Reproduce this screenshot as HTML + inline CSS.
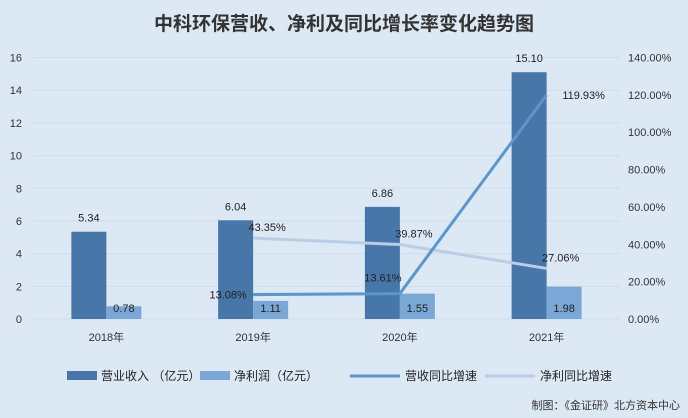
<!DOCTYPE html>
<html><head><meta charset="utf-8"><style>
body{margin:0;background:#dde8f5;}
svg{display:block;font-family:"Liberation Sans","Noto Sans CJK SC",sans-serif;}
</style></head><body>
<svg id="c" width="688" height="418">
<rect width="688" height="418" fill="#dde8f5"/>
<text x="344" y="30" text-anchor="middle" font-size="19" font-weight="bold" fill="#333">中科环保营收、净利及同比增长率变化趋势图</text>
<g id="plot"></g>
<g font-size="12" fill="#222">
<rect x="67" y="371" width="30" height="9" fill="#4677a8"/>
<text x="101" y="380">营业收入 （亿元）</text>
<rect x="200" y="371" width="30" height="9" fill="#7ba7d7"/>
<text x="234" y="380">净利润（亿元）</text>
<line x1="350" y1="376" x2="400" y2="376" stroke="#5b97cc" stroke-width="3"/>
<text x="405" y="380">营收同比增速</text>
<line x1="485" y1="376" x2="535" y2="376" stroke="#b9cde6" stroke-width="3"/>
<text x="540" y="380">净利同比增速</text>
</g>
<text x="680" y="409" text-anchor="end" font-size="11" fill="#333">制图：《金证研》北方资本中心</text>
</svg>
<script>
const categories=["2018年","2019年","2020年","2021年"];
const revenue=[5.34,6.04,6.86,15.10];
const profit=[0.78,1.11,1.55,1.98];
const revGrowth=[null,13.08,13.61,119.93];
const profitGrowth=[null,43.35,39.87,27.06];
const leftTicks=[0,2,4,6,8,10,12,14,16];
const rightTicks=[0,20,40,60,80,100,120,140];
const NS="http://www.w3.org/2000/svg";
const g=document.getElementById('plot');
const X0=33,X1=620,Y0=319,Y1=57.5;
const band=(X1-X0)/categories.length;
const cx=i=>X0+band*(i+0.5);
const yL=v=>Y0-(v/16)*(Y0-Y1);
const yR=v=>Y0-(v/140)*(Y0-Y1);
function el(t,a,txt){const e=document.createElementNS(NS,t);for(const k in a)e.setAttribute(k,a[k]);if(txt!=null)e.textContent=txt;g.appendChild(e);return e;}
leftTicks.forEach(v=>{
 const l=el('line',{x1:X0,x2:X1,y1:yL(v),y2:yL(v),stroke:'#cfdceb','stroke-width':1});
 
 
 const t=el('text',{x:22,y:yL(v)+4,'text-anchor':'end','font-size':11,fill:'#333'},v);
 
 
});
rightTicks.forEach(v=>{
 const t=el('text',{x:628,y:yR(v)+4,'font-size':11,fill:'#333'},v.toFixed(2)+'%');
 
 
});
const bw=35;
categories.forEach((c,i)=>{
 const x=cx(i);
 const b=el('rect',{x:x-bw,y:yL(revenue[i]),width:bw,height:Y0-yL(revenue[i]),fill:'#4677a8'});
 
 
 const p=el('rect',{x:x,y:yL(profit[i]),width:bw,height:Y0-yL(profit[i]),fill:'#7ba7d7'});
 
 
 const t1=el('text',{x:x-bw/2,y:yL(revenue[i])-10,'text-anchor':'middle','font-size':11,fill:'#222'},revenue[i].toFixed(2));
 
 
 const t2=el('text',{x:x+bw/2,y:Y0-7,'text-anchor':'middle','font-size':11,fill:'#222'},profit[i].toFixed(2));
 
 
 const xl=el('text',{x:x,y:341,'text-anchor':'middle','font-size':11,fill:'#333'},c);
 
 
});
function line(arr,color,name){
 const pts=[];arr.forEach((v,i)=>{if(v!=null)pts.push(cx(i)+','+yR(v));});
 const l=el('polyline',{points:pts.join(' '),fill:'none',stroke:color,'stroke-width':3});
 
 
}
line(profitGrowth,'#b9cde6','line-profit-growth');
line(revGrowth,'#5b97cc','line-revenue-growth');
const rdx=[0,-25,-17,37], rdy=[0,4,-12,4];
revGrowth.forEach((v,i)=>{if(v==null)return;
 const t=el('text',{x:cx(i)+rdx[i],y:yR(v)+rdy[i],'text-anchor':'middle','font-size':11,fill:'#222'},v.toFixed(2)+'%');
 
 
});
profitGrowth.forEach((v,i)=>{if(v==null)return;
 const t=el('text',{x:cx(i)+14,y:yR(v)-7,'text-anchor':'middle','font-size':11,fill:'#222'},v.toFixed(2)+'%');
 
 
});
</script>
</body></html>
